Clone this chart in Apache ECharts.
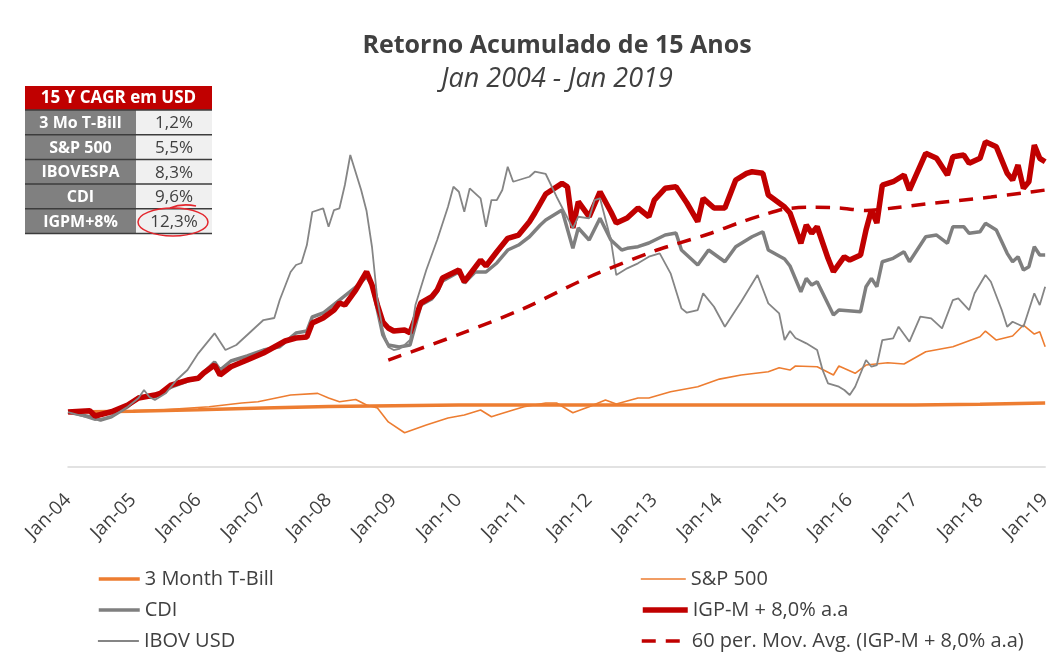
<!DOCTYPE html>
<html>
<head>
    <meta charset="utf-8">
    <title>Retorno Acumulado de 15 Anos</title>
    <script src="https://cdn.jsdelivr.net/npm/echarts@6/dist/echarts.min.js"></script>
    <style>
        html, body { margin: 0; padding: 0; background: #fff; }
        #main { width: 1054px; height: 653px; }
    </style>
</head>
<body>
    <div id="main"></div>
    <script>
        // eixo x: meses desde Jan-04, um rótulo por ano
        var xLabels = ['Jan-04', 'Jan-05', 'Jan-06', 'Jan-07', 'Jan-08', 'Jan-09', 'Jan-10', 'Jan-11',
            'Jan-12', 'Jan-13', 'Jan-14', 'Jan-15', 'Jan-16', 'Jan-17', 'Jan-18', 'Jan-19'];

        // tabela CAGR
        var tableTitle = '15 Y CAGR em USD';
        var tableNames = ['3 Mo T-Bill', 'S&P 500', 'IBOVESPA', 'CDI', 'IGPM+8%'];
        var tableValues = ['1,2%', '5,5%', '8,3%', '9,6%', '12,3%'];

        // séries: [mês, índice (base 100)]
        var tbill = [[0, 100], [12, 101.5], [24, 104], [36, 107.4], [48, 110], [60, 111.5], [72, 112.8],
            [84, 112.8], [96, 112.8], [108, 112.8], [120, 112.8], [132, 112.8], [144, 112.8], [156, 113],
            [168, 114.2], [180, 116.5]];

        var sp500 = [[0, 100], [17, 103.7], [26, 109.7], [32, 116.5], [35, 118.8], [41, 131], [46, 134],
            [48, 125.6], [50, 118.8], [53, 122.8], [55, 112.8], [57, 107.4], [59, 82], [62, 62.4], [66, 76.4],
            [70, 89.2], [73, 94.6], [76, 103.7], [78, 91.5], [79, 94.6], [82, 103.7], [84, 109.7], [88, 116.5],
            [90, 116.5], [93, 98.8], [96, 109.7], [99, 121.9], [101, 114.7], [105, 125.6], [107, 125.6],
            [111, 137], [116, 146], [120, 160], [124, 167.4], [129, 173.4], [131, 180.7], [133, 176.5],
            [134, 183.8], [138, 182.5], [141, 167.4], [142, 183.8], [145, 170.5], [147, 185.6], [151, 189.8],
            [154, 187.5], [158, 209.8], [163, 219], [168, 237], [169, 247.5], [171, 231], [174, 238.4],
            [176, 258.4], [178, 242], [179, 246], [180, 219]];

        var cdi = [[0, 100], [4, 91.5], [6, 85.5], [8, 91.5], [11, 109.7], [13, 127.4], [16, 127.4],
            [19, 145.6], [22, 156.5], [24, 162], [27, 191.1], [28, 176.5], [30, 192.9], [33, 202], [36, 212.9],
            [39, 219], [42, 243.9], [44, 247.5], [45, 273], [47, 280.3], [50, 303.9], [53, 327.6], [55, 346.3],
            [56, 331.2], [57, 285.7], [58, 240.2], [59, 222], [61, 218.4], [63, 222], [65, 294.8], [67, 305.8],
            [68, 318.5], [69, 338.5], [72, 354.9], [73, 334.9], [75, 354.9], [77, 354.9], [79, 371.3],
            [81, 394.9], [83, 404], [85, 419.1], [87, 440.4], [88, 449.5], [91, 467.7], [93, 398], [94, 435],
            [96, 413.1], [98, 452.6], [100, 413.1], [102, 394.9], [103, 398], [105, 401], [107, 407.7],
            [110, 422.2], [112, 425.9], [113, 394.9], [116, 367.6], [118, 394.9], [121, 373.6], [123, 401],
            [126, 419.1], [128, 428.2], [129, 394.9], [132, 378.6], [133, 365.8], [135, 319], [136, 343.4],
            [137, 331.2], [138, 337.2], [141, 276.6], [142, 285.7], [146, 282.6], [147, 328.1], [148, 343.4],
            [149, 328.1], [150, 373.6], [152, 379.8], [154, 391.8], [155, 373.6], [158, 419.1], [160, 422.2],
            [162, 407.1], [163, 437.3], [165, 437.3], [166, 425.3], [168, 428.2], [169, 443.5], [171, 431.3],
            [173, 388.9], [174, 373.6], [175, 382.7], [176, 358.5], [177, 364.5], [178, 401], [179, 385.8],
            [180, 385.8]];

        var igpm = [[0, 100], [4, 102.5], [5, 92.8], [8, 100.6], [11, 112.8], [13, 125.6], [16, 131],
            [17, 134.1], [19, 149.2], [22, 158.3], [24, 161.4], [25, 171.1], [27, 185.6], [28, 167.4],
            [30, 182.5], [33, 194.7], [36, 207.5], [40, 229.3], [42, 234.8], [44, 236.6], [45, 262.1],
            [47, 271.2], [49, 285.7], [50, 298.5], [51, 294.8], [53, 322.1], [55, 355.4], [56, 331.2],
            [57, 294.8], [58, 263.9], [59, 253], [60, 247.5], [62, 249.3], [63, 244.4], [65, 298.5],
            [67, 309.9], [68, 322.1], [69, 344], [72, 358.5], [73, 337.2], [76, 376.7], [77, 365.8],
            [79, 391.8], [81, 416.2], [83, 422.2], [85, 446.4], [86, 462.3], [88, 496.9], [91, 516.3],
            [92, 510.1], [93, 435], [94, 482.8], [96, 455.5], [98, 501], [100, 464.6], [101, 444.1],
            [103, 453.2], [105, 471.4], [107, 455.5], [108, 485.9], [110, 507.2], [112, 510.1], [114, 480.5],
            [116, 446.4], [117, 489], [119, 471.4], [121, 471.4], [123, 522.3], [125, 534.5], [126, 537.4],
            [128, 534.5], [129, 495], [132, 473.2], [133, 462.3], [135, 407.1], [136, 440.4], [137, 425.3],
            [138, 437.3], [140, 379.8], [141, 355.4], [143, 382.7], [144, 376.7], [146, 385.8], [147, 431.3],
            [148, 467.7], [149, 444.1], [150, 513.2], [152, 519.2], [154, 531.4], [155, 504.1], [158, 570.9],
            [160, 561.8], [162, 531.4], [163, 564.7], [165, 567.8], [166, 552.7], [168, 561.8], [169, 592],
            [171, 582.9], [173, 534.5], [174, 522.3], [175, 549.6], [176, 507.2], [177, 519.2], [178, 586],
            [179, 561.8], [180, 555.6]];

        var ibov = [[0, 100], [3, 91.5], [5, 85.5], [8, 91.5], [11, 109.7], [13, 125.6], [14, 140.1],
            [15, 127.4], [16, 121.9], [18, 134.1], [20, 158.3], [22, 176.5], [24, 206.9], [27, 243.3],
            [29, 212.9], [31, 222], [34, 249.3], [36, 267.5], [38, 271.2], [39, 303.9], [41, 354.9],
            [42, 367.6], [43, 371.3], [44, 404], [45, 464.1], [47, 470.8], [48, 437.3], [49, 467.7],
            [50, 470.8], [51, 513.2], [52, 567.8], [54, 504.1], [55, 465.9], [56, 400.4], [57, 303.9],
            [58, 249.3], [59, 218.4], [60, 212.9], [61, 214.8], [62, 222], [63, 231.1], [64, 294.8],
            [66, 358.5], [68, 413.1], [70, 473.7], [71, 510.1], [72, 501], [73, 464.6], [74, 507.2],
            [76, 489], [77, 437.3], [78, 485.9], [79, 485.9], [80, 504.1], [81, 546.5], [82, 519.2],
            [85, 528.3], [86, 537.4], [88, 533.3], [90, 491.9], [93, 434.4], [94, 455.5], [96, 452.6],
            [97, 485.9], [98, 489], [100, 413.1], [101, 349.4], [103, 361.6], [105, 370.7], [107, 382.7],
            [109, 388.9], [111, 352.5], [113, 288.8], [114, 280.8], [116, 285.7], [117, 316.1], [119, 291.7],
            [121, 255.3], [123, 285.7], [124, 300.8], [127, 349.4], [129, 297.9], [131, 279.7], [132, 231.1],
            [133, 247.5], [134, 234.8], [136, 225.1], [138, 212.9], [139, 176.5], [140, 152.3], [142, 146.1],
            [143, 140.1], [144, 131], [145, 146.1], [147, 194.7], [148, 182.5], [149, 185.6], [150, 231.1],
            [152, 234.2], [153, 255.3], [155, 228], [157, 273.5], [159, 270.6], [161, 252.4], [163, 303.9],
            [164, 307], [166, 285.7], [167, 316.1], [169, 349.4], [170, 337.2], [172, 285.7], [173, 255.3],
            [174, 264.4], [176, 255.3], [178, 316.1], [179, 294.8], [180, 328.1]];

        var igpmAvg = [[59, 194.7], [72, 241.2], [84, 288.8], [96, 345.8], [108, 393.1], [112, 405.9],
            [118, 424.1], [124, 445.9], [128, 458.6], [132, 469.6], [137, 472.7], [142, 471.4], [147, 466.8],
            [152, 471.4], [158, 478.7], [164, 485], [170, 491.4], [176, 498.7], [180, 504.1]];

        var FONT = 'Open Sans';
        var TXT = '#404040';
        var ORANGE = '#ED7D31';
        var GREY = '#7F7F7F';
        var RED = '#C00000';

        // tabela desenhada com graphic
        var tbl = [];
        var tx = 25, ty = 86, wL = 111, wR = 76, hH = 24, hR = 24.7;
        tbl.push({ type: 'rect', shape: { x: tx, y: ty, width: wL + wR, height: hH }, style: { fill: RED } });
        tbl.push({
            type: 'text', x: tx + (wL + wR) / 2, y: ty + hH / 2,
            style: { text: tableTitle, fill: '#fff', font: 'bold 17px "' + FONT + '"', align: 'center', verticalAlign: 'middle' }
        });
        for (var i = 0; i < tableNames.length; i++) {
            var ry = ty + hH + i * hR;
            tbl.push({ type: 'rect', shape: { x: tx, y: ry, width: wL, height: hR }, style: { fill: '#808080' } });
            tbl.push({ type: 'rect', shape: { x: tx + wL, y: ry, width: wR, height: hR }, style: { fill: '#F0F0F0' } });
            tbl.push({
                type: 'text', x: tx + wL / 2, y: ry + hR / 2 + 1,
                style: { text: tableNames[i], fill: '#fff', font: 'bold 16px "' + FONT + '"', align: 'center', verticalAlign: 'middle' }
            });
            tbl.push({
                type: 'text', x: tx + wL + wR / 2, y: ry + hR / 2 + 1,
                style: { text: tableValues[i], fill: TXT, font: '17px "' + FONT + '"', align: 'center', verticalAlign: 'middle' }
            });
        }
        for (var j = 0; j <= tableNames.length; j++) {
            var ly = ty + hH + j * hR;
            tbl.push({ type: 'line', shape: { x1: tx, y1: ly, x2: tx + wL + wR, y2: ly }, style: { stroke: '#3c3c3c', lineWidth: 1.5 } });
        }
        // marcação à mão em vermelho
        tbl.push({ type: 'ellipse', shape: { cx: 173, cy: 222, rx: 35, ry: 14 }, style: { fill: null, stroke: '#E3262D', lineWidth: 1.5 } });
        tbl.push({ type: 'bezierCurve', shape: { x1: 170, y1: 208, x2: 196, y2: 206, cpx1: 182, cpy1: 203 }, style: { fill: null, stroke: '#E3262D', lineWidth: 1.5 } });

        var myChart = echarts.init(document.getElementById('main'));

        // uma legenda por item, em duas colunas
        var legendItems = [
            ['3 Month T-Bill', 97, 41, 569],
            ['CDI', 97, 41, 600],
            ['IBOV USD', 97, 41, 631],
            ['S&P 500', 640, 45, 569],
            ['IGP-M + 8,0% a.a', 640, 45, 600],
            ['60 per. Mov. Avg. (IGP-M + 8,0% a.a)', 640, 45, 631]
        ];
        var legends = legendItems.map(function (it) {
            return {
                data: [it[0]], left: it[1], itemWidth: it[2], top: it[3], padding: 0,
                itemHeight: 14,
                itemStyle: { opacity: 0 },
                lineStyle: { width: 'inherit' },
                textStyle: { fontFamily: FONT, fontSize: 20, color: TXT }
            };
        });

        var option = {
            animation: false,
            backgroundColor: '#fff',
            title: {
                text: 'Retorno Acumulado de 15 Anos',
                subtext: 'Jan 2004 - Jan 2019',
                left: 557,
                top: 33,
                textAlign: 'center',
                padding: 0,
                itemGap: 8,
                textStyle: { fontFamily: FONT, fontSize: 25, fontWeight: 'bold', color: TXT },
                subtextStyle: { fontFamily: FONT, fontSize: 27, fontStyle: 'italic', color: TXT }
            },
            grid: { left: 68, right: 4, top: 82.4, bottom: 186 },
            xAxis: {
                type: 'value',
                min: 0,
                max: 180,
                interval: 12,
                splitLine: { show: false },
                axisTick: { show: false },
                axisLine: { lineStyle: { color: '#D9D9D9', width: 1.5 } },
                axisLabel: {
                    rotate: 45,
                    margin: 30,
                    fontFamily: FONT,
                    fontSize: 19,
                    color: TXT,
                    formatter: function (v) { return xLabels[Math.round(v / 12)]; }
                }
            },
            yAxis: { type: 'value', min: 0, max: 700, show: false, splitLine: { show: false } },
            legend: legends,
            graphic: tbl,
            series: [
                { name: '3 Month T-Bill', type: 'line', data: tbill, symbol: 'none', color: ORANGE, lineStyle: { width: 3.5, color: ORANGE } },
                { name: 'S&P 500', type: 'line', data: sp500, symbol: 'none', color: ORANGE, lineStyle: { width: 1.6, color: ORANGE } },
                { name: 'CDI', type: 'line', data: cdi, symbol: 'none', color: GREY, lineStyle: { width: 3.5, color: GREY } },
                { name: 'IGP-M + 8,0% a.a', type: 'line', data: igpm, symbol: 'none', color: RED, lineStyle: { width: 5.5, color: RED } },
                { name: 'IBOV USD', type: 'line', data: ibov, symbol: 'none', color: '#858585', lineStyle: { width: 1.8, color: '#858585' } },
                { name: '60 per. Mov. Avg. (IGP-M + 8,0% a.a)', type: 'line', data: igpmAvg, symbol: 'none', smooth: 0.3, color: RED, lineStyle: { width: 3.5, color: RED, type: [14, 10] } }
            ]
        };

        myChart.setOption(option);
    </script>
</body>
</html>
